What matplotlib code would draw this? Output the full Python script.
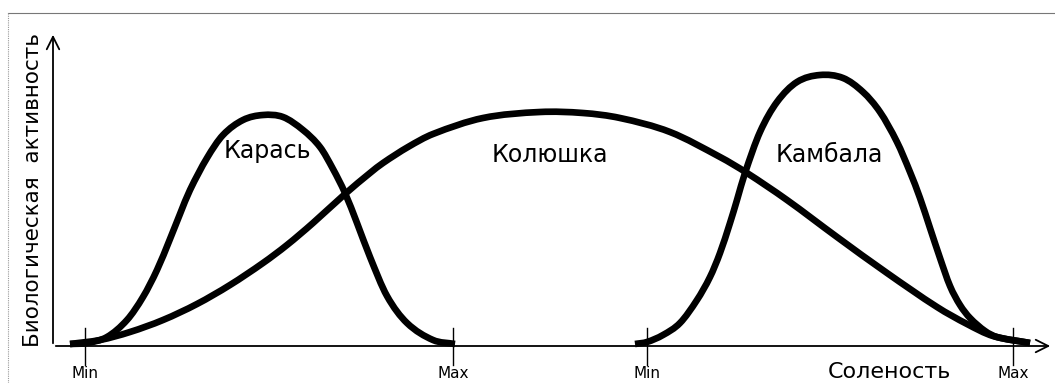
import matplotlib.pyplot as plt
from matplotlib.path import Path
from matplotlib.patches import PathPatch
import numpy as np

# Activity curves (x = salinity, y = activity, arbitrary units)
karas_x = [70, 87, 107, 127, 143, 157, 170, 180, 190, 207, 223, 243, 263, 283, 303,
           320, 333, 345, 357, 370, 387, 407, 433, 455]
karas_y = [2, 3, 9, 26, 49, 76, 107, 132, 156, 188, 211, 226, 231, 229, 216,
           199, 177, 153, 123, 89, 50, 23, 6, 2]

kolyushka_x = [70, 100, 130, 163, 197, 230, 263, 287, 313, 345, 370, 383, 408, 433, 483,
               540, 583, 620, 670, 720, 747, 787, 837, 887, 937, 967, 993, 1030]
kolyushka_y = [2, 6, 14, 26, 42, 61, 83, 101, 123, 152, 173, 183, 199, 212, 228,
               234, 233, 228, 214, 189, 173, 146, 109, 73, 39, 22, 10, 3]

kambala_x = [635, 647, 663, 680, 697, 710, 720, 730, 737, 745, 760, 777, 797, 820,
             843, 863, 880, 897, 910, 920, 930, 940, 950, 960, 970, 985, 997, 1030]
kambala_y = [2, 4, 11, 23, 46, 69, 93, 123, 146, 173, 214, 244, 264, 271,
             268, 254, 234, 204, 174, 148, 118, 88, 60, 41, 28, 15, 9, 3]

tick_x = [85, 453, 647, 1013]
tick_labels = ['Min', 'Max', 'Min', 'Max']

species = ['Карась', 'Колюшка', 'Камбала']
species_pos = [(267, 188), (550, 184), (829, 184)]


def smooth_path(xs, ys):
    """Cubic Hermite (in x) Bezier path through the read points"""
    x = np.asarray(xs, float)
    y = np.asarray(ys, float)
    n = len(x)
    m = np.empty(n)
    m[0] = (y[1] - y[0]) / (x[1] - x[0])
    m[-1] = (y[-1] - y[-2]) / (x[-1] - x[-2])
    m[1:-1] = (y[2:] - y[:-2]) / (x[2:] - x[:-2])
    verts = [(x[0], y[0])]
    codes = [Path.MOVETO]
    for i in range(n - 1):
        h = (x[i + 1] - x[i]) / 3.0
        verts += [(x[i] + h, y[i] + h * m[i]),
                  (x[i + 1] - h, y[i + 1] - h * m[i + 1]),
                  (x[i + 1], y[i + 1])]
        codes += [Path.CURVE4] * 3
    return Path(verts, codes)


fig = plt.figure(figsize=(10.55, 3.83), dpi=100)
ax = fig.add_axes([0, 0, 1, 1])
ax.set_xlim(0, 1055)
ax.set_ylim(-37, 346)
ax.axis('off')

# thin scan frame (top and left edges)
ax.plot([8, 1055], [333, 333], color='#777777', lw=0.8)
ax.plot([8, 8], [-37, 333], color='#999999', lw=0.8, ls=(0, (1, 1)))

# axes with open arrow heads
ax.annotate('', xy=(1053, 0), xytext=(53, 0),
            arrowprops=dict(arrowstyle='->,head_length=0.9,head_width=0.45', lw=1.3, color='black'))
ax.annotate('', xy=(53, 314), xytext=(53, 0),
            arrowprops=dict(arrowstyle='->,head_length=0.9,head_width=0.45', lw=1.3, color='black'))

for xs, ys in [(karas_x, karas_y), (kolyushka_x, kolyushka_y), (kambala_x, kambala_y)]:
    ax.add_patch(PathPatch(smooth_path(xs, ys), facecolor='none', edgecolor='black',
                           lw=4.8, capstyle='butt', joinstyle='round'))

for x, lab in zip(tick_x, tick_labels):
    ax.plot([x, x], [18, -19], color='black', lw=1.0)
    ax.text(x, -20, lab, ha='center', va='top', fontsize=11)

for name, (x, y) in zip(species, species_pos):
    ax.text(x, y, name, ha='center', va='baseline', fontsize=17)

ax.text(889, -26, 'Соленость', ha='center', va='center', fontsize=16)
ax.text(33, 156, 'Биологическая  активность', ha='center', va='center',
        rotation=90, fontsize=15.5)

fig.savefig('out.png', dpi=100)
